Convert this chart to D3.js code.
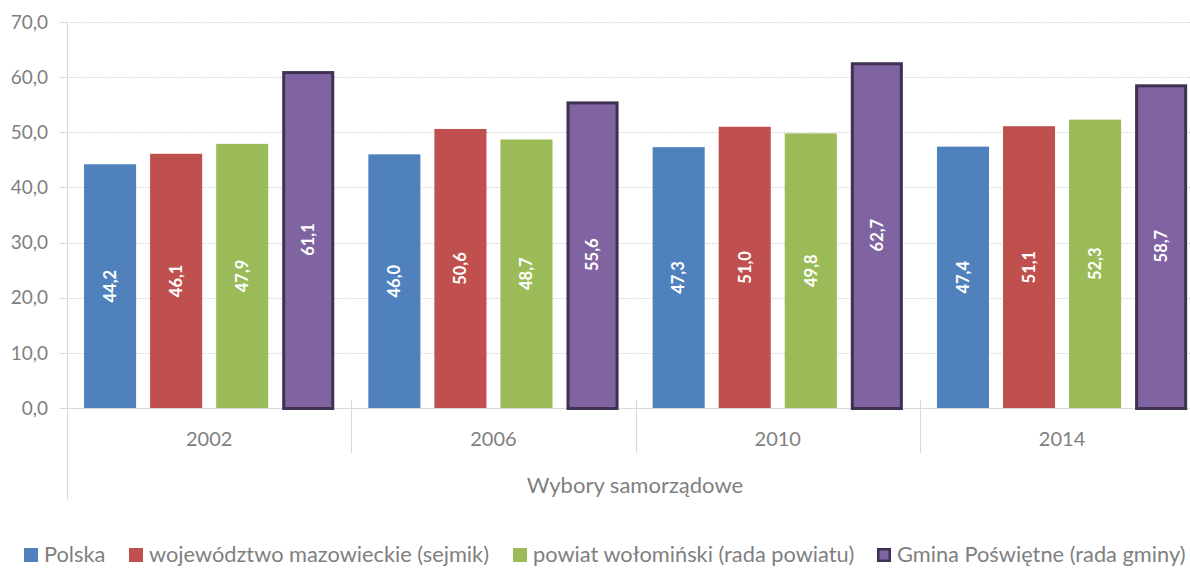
<!DOCTYPE html>
<html>
<head>
<meta charset="utf-8">
<script src="https://cdn.jsdelivr.net/npm/d3@7"></script>
<style>
  html, body { margin: 0; padding: 0; background: #fff; }
  svg { display: block; font-family: Lato, "Open Sans", sans-serif; }
</style>
</head>
<body>
<svg id="chart" width="1190" height="573"></svg>
<script>
// Frekwencja w wyborach samorządowych (%)
const years = ["2002", "2006", "2010", "2014"];
const seriesNames = [
  "Polska",
  "województwo mazowieckie (sejmik)",
  "powiat wołomiński (rada powiatu)",
  "Gmina Poświętne (rada gminy)"
];
const polska      = [44.2, 46.0, 47.3, 47.4];
const mazowieckie = [46.1, 50.6, 51.0, 51.1];
const wolominski  = [47.9, 48.7, 49.8, 52.3];
const poswietne   = [61.1, 55.6, 62.7, 58.7];
const yTicks = [0, 10, 20, 30, 40, 50, 60, 70];
const axisTitle = "Wybory samorządowe";

const seriesValues = [polska, mazowieckie, wolominski, poswietne];
const colors = ["#4f81bd", "#c0504d", "#9bbb59", "#8064a2"];
const outline = "#3f3151";
const gray = "#7f7f7f";
const lineGray = "#d9d9d9";

const svg = d3.select("#chart");
const fmt = v => d3.format(".1f")(v).replace(".", ",");

const plotLeft = 67, plotTop = 22, plotBottom = 408;
const groupWidth = 284.3;

const y = d3.scaleLinear().domain([0, 70]).range([plotBottom, plotTop]);
const x0 = d3.scaleBand().domain(years)
  .range([plotLeft, plotLeft + groupWidth * years.length]).padding(0);
const x1 = d3.scaleBand().domain(d3.range(seriesNames.length))
  .range([0, x0.bandwidth()]).paddingInner(0.212).paddingOuter(0.258);

// gridlines, tick marks and value labels of the y axis
const grid = svg.append("g");
yTicks.forEach(t => {
  const yy = Math.round(y(t)) + 0.5;
  grid.append("line")
    .attr("x1", plotLeft).attr("x2", 1190)
    .attr("y1", yy).attr("y2", yy)
    .attr("stroke", t === 0 ? lineGray : "#d0d0d0")
    .attr("stroke-width", 1)
    .attr("stroke-dasharray", t === 0 ? null : "1.5,1.5");
  grid.append("line")
    .attr("x1", plotLeft - 7).attr("x2", plotLeft)
    .attr("y1", yy).attr("y2", yy)
    .attr("stroke", lineGray);
  grid.append("text")
    .attr("x", 48).attr("y", y(t))
    .attr("dy", "0.35em")
    .attr("text-anchor", "end")
    .attr("fill", gray)
    .attr("font-size", 19)
    .text(fmt(t));
});

// y axis line and category separators
svg.append("line")
  .attr("x1", plotLeft + 0.5).attr("x2", plotLeft + 0.5)
  .attr("y1", plotTop).attr("y2", 500)
  .attr("stroke", lineGray);
years.forEach(yr => {
  const xs = x0(yr) + x0.bandwidth();
  svg.append("line")
    .attr("x1", Math.round(xs) + 0.5).attr("x2", Math.round(xs) + 0.5)
    .attr("y1", 400).attr("y2", 453)
    .attr("stroke", lineGray);
});

// bars with rotated value labels
const groups = svg.append("g").selectAll("g")
  .data(years).join("g")
  .attr("transform", d => `translate(${x0(d)},0)`);

groups.each(function(yr, gi) {
  const g = d3.select(this);
  seriesValues.forEach((vals, si) => {
    const v = vals[gi];
    const isOutlined = si === 3;
    const inset = isOutlined ? 1.5 : 0;
    g.append("rect")
      .attr("x", x1(si) + inset)
      .attr("y", y(v) + inset)
      .attr("width", x1.bandwidth() - inset * 2)
      .attr("height", y(0) - y(v) - inset * 2 + (isOutlined ? 2 : 0))
      .attr("fill", colors[si])
      .attr("stroke", isOutlined ? outline : null)
      .attr("stroke-width", isOutlined ? 3 : null);
    const cx = x1(si) + x1.bandwidth() / 2;
    const cy = (y(v) + y(0)) / 2;
    g.append("text")
      .attr("transform", `translate(${cx},${cy}) rotate(-90)`)
      .attr("text-anchor", "middle")
      .attr("dy", "0.35em")
      .attr("fill", "#fff")
      .attr("font-size", 16.5)
      .attr("font-weight", 700)
      .text(fmt(v));
  });
});

// category labels
years.forEach(yr => {
  svg.append("text")
    .attr("x", x0(yr) + x0.bandwidth() / 2)
    .attr("y", 446)
    .attr("text-anchor", "middle")
    .attr("fill", gray)
    .attr("font-size", 20)
    .text(yr);
});

svg.append("text")
  .attr("x", 635).attr("y", 493)
  .attr("text-anchor", "middle")
  .attr("fill", gray)
  .attr("font-size", 22)
  .text(axisTitle);

// legend
const legendX = [24, 129, 513, 877];
seriesNames.forEach((name, i) => {
  const lg = svg.append("g").attr("transform", `translate(${legendX[i]},548)`);
  if (i === 3) {
    lg.append("rect").attr("x", 1.25).attr("y", 1.25).attr("width", 11.5).attr("height", 11.5)
      .attr("fill", colors[i]).attr("stroke", outline).attr("stroke-width", 2.5);
  } else {
    lg.append("rect").attr("width", 14).attr("height", 14).attr("fill", colors[i]);
  }
  lg.append("text")
    .attr("x", 20).attr("y", 14)
    .attr("fill", gray)
    .attr("font-size", 21.8)
    .text(name);
});
</script>
</body>
</html>
